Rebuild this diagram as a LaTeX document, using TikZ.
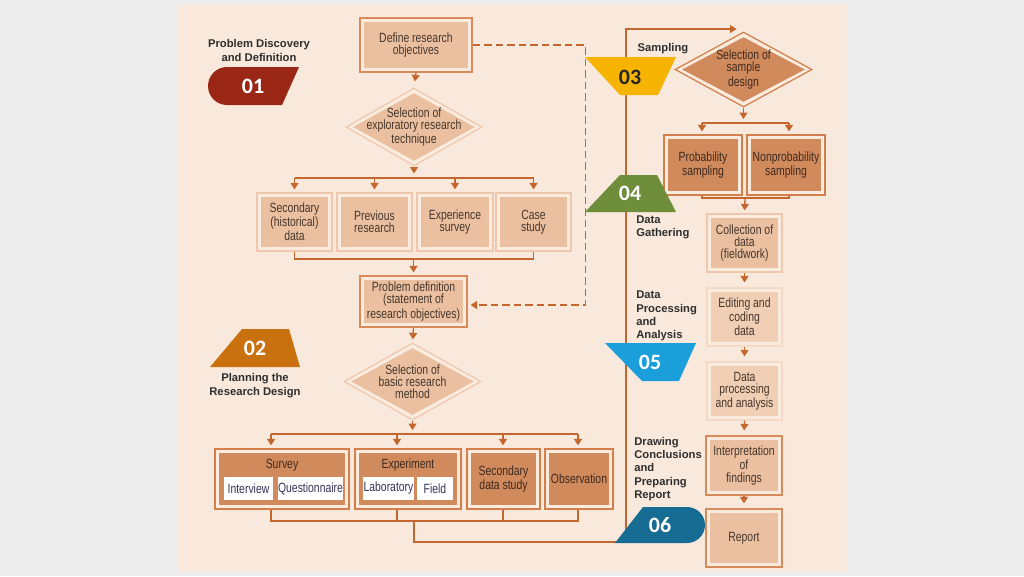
\documentclass[tikz,border=0pt]{standalone}
\usepackage{fontspec}
\setmainfont{Liberation Sans}
\newfontfamily\cond[FakeStretch=0.78]{Liberation Sans}
\newfontfamily\numf{Carlito}
\usetikzlibrary{arrows.meta,shapes.geometric}
\definecolor{bggray}{HTML}{ECECEC}
\definecolor{panel}{HTML}{F9E9DC}
\definecolor{connc}{HTML}{C4672E}
\definecolor{txt}{HTML}{46362C}
\definecolor{dtxt}{HTML}{3E2A1F}
\definecolor{lbl}{HTML}{2E2E2E}
\definecolor{oline}{HTML}{D98A5A}
\definecolor{pline}{HTML}{EFC7AC}
\definecolor{vpline}{HTML}{F5D9C5}
\definecolor{gap}{HTML}{FAEBDF}
\definecolor{lfill}{HTML}{EBC0A0}
\definecolor{vlfill}{HTML}{F0CFB5}
\definecolor{dfill}{HTML}{D08A5C}
\definecolor{dline}{HTML}{D37E4B}
\definecolor{b01}{HTML}{9A2716}
\definecolor{b02}{HTML}{C9700F}
\definecolor{b03}{HTML}{F6B300}
\definecolor{b04}{HTML}{6E8E3B}
\definecolor{b05}{HTML}{1A9FDB}
\definecolor{b06}{HTML}{176C94}
\tikzset{
  conn/.style={draw=connc, line width=0.75pt},
  arr/.style={conn, -{Triangle[width=0.16cm,length=0.13cm]}, shorten >=0.06cm},
  bt/.style={font=\cond\fontsize{7.6}{6.9}\selectfont, text=txt, align=center},
  dbt/.style={bt, text=dtxt},
  lab/.style={font=\bfseries\fontsize{6.4}{7.6}\selectfont, text=lbl, align=center, inner sep=0pt},
  num/.style={font=\numf\bfseries\fontsize{12.5}{12.5}\selectfont, text=white, inner sep=0pt},
  sz/.style 2 args={minimum width=#1*0.02cm, minimum height=#2*0.02cm},
  dbox/.style n args={3}{rectangle, inner sep=0pt, draw=#1, fill=#2, line width=0.7pt,
    path picture={\fill[#3] ([shift={(0.075cm,0.075cm)}]path picture bounding box.south west) rectangle ([shift={(-0.075cm,-0.075cm)}]path picture bounding box.north east);}},
  ddia/.style n args={3}{diamond, inner sep=0pt, draw=#1, fill=#2, line width=0.7pt,
    path picture={\fill[#3] ([xshift=0.14cm]path picture bounding box.west) -- ([yshift=-0.1cm]path picture bounding box.north) -- ([xshift=-0.14cm]path picture bounding box.east) -- ([yshift=0.1cm]path picture bounding box.south) -- cycle;}},
  sub/.style={fill=white, inner sep=0pt, font=\cond\fontsize{7.6}{6.9}\selectfont, text=black!75!blue!60!gray},
}
\begin{document}
\begin{tikzpicture}[x=0.02cm, y=-0.02cm]
\useasboundingbox (0,0) rectangle (1024,576);
\fill[bggray] (0,0) rectangle (1024,576);
\fill[panel] (178,5) rectangle (848,572);

% ---------- left column ----------
\node[dbox={oline}{gap}{lfill}, sz={112}{54}, bt] (def) at (416,45) {Define research\\objectives};
\node[ddia={pline}{gap}{lfill}, sz={136}{78}] (d1) at (414,127) {};
\node[bt] (d1t) at (414,127) {Selection of\\exploratory research\\technique};

\node[dbox={pline}{gap}{lfill}, sz={75}{58}, bt] (sec) at (294.5,222) {Secondary\\(historical)\\data};
\node[dbox={pline}{gap}{lfill}, sz={75}{58}, bt] (prev) at (374.5,222) {Previous\\research};
\node[dbox={pline}{gap}{lfill}, sz={76}{58}, bt] (exs) at (455,222) {Experience\\survey};
\node[dbox={pline}{gap}{lfill}, sz={75}{58}, bt] (case) at (533.5,222) {Case\\study};

\node[dbox={oline}{gap}{lfill}, sz={107}{51}, bt] (pdef) at (413.5,301.5) {Problem definition\\(statement of\\research objectives)};

\node[ddia={pline}{gap}{lfill}, sz={137}{77}] (d2) at (412.5,381.5) {};
\node[bt] (d2t) at (412.5,381.5) {Selection of\\basic research\\method};

\node[dbox={dline}{gap}{dfill}, sz={134}{60}] (survey) at (282,479) {};
\node[dbt] (svl) at (282,465) {Survey};
\node[sub, sz={49}{23}] (iv) at (248.5,488.5) {Interview};
\node[sub, sz={65}{23}] (qn) at (310.5,488.5) {Questionnaire};
\node[dbox={dline}{gap}{dfill}, sz={106}{60}] (expt) at (408,479) {};
\node[dbt] (exl) at (408,465) {Experiment};
\node[sub, sz={51}{23}] (lab) at (388.5,488.5) {Laboratory};
\node[sub, sz={36}{23}] (fld) at (435,488.5) {Field};
\node[dbox={dline}{gap}{dfill}, sz={73}{60}, dbt] (sds) at (503.5,479) {Secondary\\data study};
\node[dbox={dline}{gap}{dfill}, sz={68}{60}, dbt] (obs) at (579,479) {Observation};

% ---------- right column ----------
\node[ddia={dline}{gap}{dfill}, sz={137}{75}] (d3) at (743.5,69.5) {};
\node[dbt] (d3t) at (743.5,69.5) {Selection of\\sample\\design};
\node[dbox={dline}{gap}{dfill}, sz={78}{60}, dbt] (prob) at (703,165) {Probability\\sampling};
\node[dbox={dline}{gap}{dfill}, sz={78}{60}, dbt] (nprob) at (786,165) {Nonprobability\\sampling};
\node[dbox={pline}{gap}{lfill}, sz={75}{58}, bt] (coll) at (744.5,243) {Collection of\\data\\(fieldwork)};
\node[dbox={vpline}{gap}{vlfill}, sz={75}{58}, bt] (edit) at (744.5,317) {Editing and\\coding\\data};
\node[dbox={vpline}{gap}{vlfill}, sz={75}{58}, bt] (dproc) at (744.5,391) {Data\\processing\\and analysis};
\node[dbox={oline}{gap}{lfill}, sz={76}{59}, bt] (interp) at (744,465.5) {Interpretation\\of\\findings};
\node[dbox={oline}{gap}{lfill}, sz={76}{58}, bt] (report) at (744,538) {Report};

% ---------- connectors ----------
\coordinate (b1) at (0,178);
\coordinate (b2) at (0,259);
\coordinate (b3) at (0,434);
\coordinate (b4) at (0,521);
\coordinate (b5) at (0,123);
\coordinate (b6) at (0,198);
\coordinate (s1) at (271,434);
\coordinate (s2) at (397,434);
\coordinate (s3) at (503,434);
\coordinate (s4) at (578,434);
\coordinate (p1) at (702,123);
\coordinate (p2) at (789,123);
\coordinate (m1) at (745,198);
\coordinate (j1) at (414,521);
\coordinate (c1) at (414,542);
\coordinate (c2) at (626,542);
\coordinate (c3) at (626,29);
\coordinate (k1) at (585.5,45);
\coordinate (k2) at (585.5,305);

\draw[arr, shorten >=0.12cm] (def.south) -- (d1.north);
\draw[arr, shorten >=0.09cm] (d1.south) -- (d1.south |- b1);
\draw[conn] (sec.north |- b1) -- (case.north |- b1);
\foreach \n in {sec,prev,exs,case} \draw[arr] (\n.north |- b1) -- (\n.north);
\draw[conn] (sec.south) -- (sec.south |- b2) -- (case.south |- b2) -- (case.south);
\draw[arr] (pdef.north |- b2) -- (pdef.north);
\draw[arr] (pdef.south) -- (d2.north);
\draw[arr, shorten >=0.08cm] (d2.south) -- (d2.south |- b3);
\draw[conn] (s1) -- (s4);
\draw[arr] (s1) -- (s1 |- survey.north);
\draw[arr] (s2) -- (s2 |- expt.north);
\draw[arr] (s3) -- (s3 |- sds.north);
\draw[arr] (s4) -- (s4 |- obs.north);
\draw[conn] (s1 |- survey.south) -- (s1 |- b4) -- (s4 |- b4) -- (s4 |- obs.south);
\draw[conn] (s2 |- expt.south) -- (s2 |- b4);
\draw[conn] (s3 |- sds.south) -- (s3 |- b4);
\draw[arr, shorten >=0.14cm] (j1) -- (c1) -- (c2) -- (c3) -- (c3 -| d3.north);

\draw[arr, shorten >=0.08cm] (d3.south) -- (d3.south |- b5);
\draw[conn] (p1) -- (p2);
\draw[arr] (p1) -- (p1 |- prob.north);
\draw[arr] (p2) -- (p2 |- nprob.north);
\draw[conn] (p1 |- prob.south) -- (p1 |- b6) -- (p2 |- b6) -- (p2 |- nprob.south);
\draw[arr] (m1) -- (coll.north);
\draw[arr, shorten >=0.1cm] (coll.south) -- (edit.north);
\draw[arr, shorten >=0.1cm] (edit.south) -- (dproc.north);
\draw[arr, shorten >=0.1cm] (dproc.south) -- (interp.north);
\draw[arr, shorten >=0.1cm] (interp.south) -- (report.north);

\draw[conn, line width=1.1pt, dash pattern=on 0.15cm off 0.08cm, -{Triangle[width=0.16cm,length=0.13cm]}, shorten >=0.06cm]
  (def.east) -- (k1) -- (k2) -- (k2 -| pdef.east);

% ---------- badges ----------
\fill[b01] (299,67) -- (227,67) arc[start angle=270, end angle=90, radius=19] -- (282,105) -- cycle;
\node[num] (n01) at (253,86) {01};
\node[lab] (l01) at (259,50.5) {Problem Discovery\\and Definition};

\fill[b02] (242,329) -- (289,329) -- (300,367) -- (210,367) -- cycle;
\node[num] (n02) at (255,348) {02};
\node[lab] (l02) at (255,385.5) {Planning the\\Research Design};

\fill[b03] (585,57) -- (676,57) -- (658,95) -- (620,95) -- cycle;
\node[num, text=black!85] (n03) at (630,77) {03};
\node[lab] (l03) at (663,49) {Sampling};

\fill[b04] (620,175) -- (657,175) -- (676,212) -- (585,212) -- cycle;
\node[num] (n04) at (630,193) {04};
\node[lab, anchor=west, align=left] (l04) at (636,227) {Data\\Gathering};

\fill[b05] (605,343) -- (696,343) -- (679,381) -- (642,381) -- cycle;
\node[num] (n05) at (650,362) {05};
\node[lab, anchor=west, align=left] (l05) at (636,316) {Data\\Processing\\and\\Analysis};

\fill[b06] (643,507) -- (687,507) arc[start angle=-90, end angle=90, radius=18] -- (615,543) -- cycle;
\node[num] (n06) at (660,525) {06};
\node[lab, anchor=west, align=left] (l06) at (634,469) {Drawing\\Conclusions\\and\\Preparing\\Report};
\end{tikzpicture}
\end{document}
